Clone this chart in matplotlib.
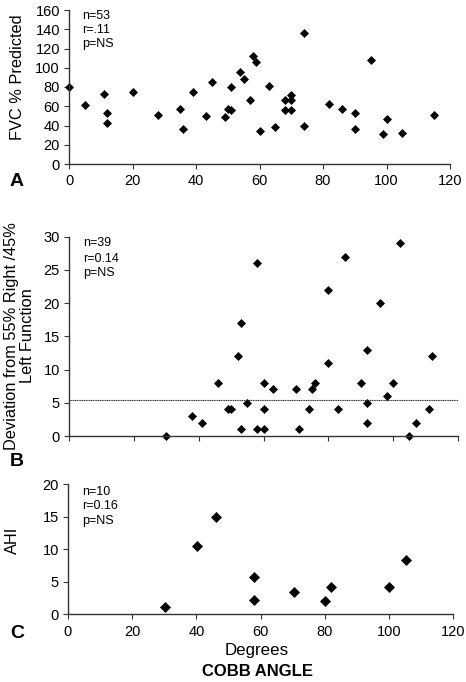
import numpy as np
import matplotlib
matplotlib.use("Agg")
import matplotlib.pyplot as plt

plt.rcParams['font.family'] = ['Liberation Sans', 'DejaVu Sans']

# ==========================
# DATA
# ==========================

# Panel A: FVC % predicted vs Cobb angle
fvc_angle = [0, 5, 11, 12, 12, 20, 28, 35, 36, 39, 43, 45, 49, 50, 51, 51,
             54, 55, 58, 59, 57, 60, 63, 65, 68, 68, 70, 70, 70, 74, 74,
             82, 86, 90, 90, 95, 100, 99, 105, 115]
fvc_pct = [80, 61, 73, 53, 43, 75, 51, 57, 36, 75, 50, 85, 49, 57, 56, 80,
           96, 88, 112, 106, 66, 34, 81, 38, 67, 56, 72, 66, 56, 136, 40,
           62, 57, 53, 36, 108, 47, 31, 32, 51]

# Panel B: deviation from 55/45 split vs Cobb angle
dev_angle = [30, 38, 41, 46, 49, 50, 52, 53, 53, 55, 58, 58, 60, 60, 60,
             63, 70, 71, 74, 75, 76, 80, 80, 83, 85, 90, 92, 92, 92, 96,
             98, 100, 102, 105, 107, 111, 112]
dev_val = [0, 3, 2, 8, 4, 4, 12, 17, 1, 5, 26, 1, 8, 4, 1,
           7, 7, 1, 4, 7, 8, 22, 11, 4, 27, 8, 13, 5, 2, 20,
           6, 8, 29, 0, 2, 4, 12]
dev_ref = 5.4

# Panel C: AHI vs Cobb angle
ahi_angle = [30.3, 40.2, 46, 58, 58, 70.3, 80, 82, 100, 105.4]
ahi_val = [1.2, 10.5, 15, 5.8, 2.2, 3.4, 2.0, 4.2, 4.2, 8.3]

stats_a = ["n=53", "r=.11", "p=NS"]
stats_b = ["n=39", "r=0.14", "p=NS"]
stats_c = ["n=10", "r=0.16", "p=NS"]

# ==========================
# FIGURE
# ==========================

W, H = 466, 682
fig = plt.figure(figsize=(W / 100, H / 100), dpi=100)


def px_axes(left, right, top, bottom):
    return fig.add_axes([left / W, 1 - bottom / H, (right - left) / W, (bottom - top) / H])


def px_text(x, y, s, **kw):
    return fig.text(x / W, 1 - y / H, s, **kw)


axA = px_axes(69, 450, 10, 164)
axB = px_axes(69, 458, 236.7, 436)
axC = px_axes(68, 453, 484.3, 614.3)

spine_col = '#333333'
for ax in (axA, axB, axC):
    for s in ('top', 'right'):
        ax.spines[s].set_visible(False)
    for s in ('left', 'bottom'):
        ax.spines[s].set_color(spine_col)
        ax.spines[s].set_linewidth(1.0)
    ax.tick_params(direction='out', length=3.5, width=0.8, color=spine_col,
                   labelsize=10.5)
    ax.tick_params(axis='x', pad=4)
    ax.tick_params(axis='y', pad=3)
    ax.set_xlim(0, 120)
    ax.set_xticks(np.arange(0, 121, 20))

# Panel A
axA.plot(fvc_angle, fvc_pct, 'D', color='black', ms=4, mew=0.5, clip_on=False)
axA.set_ylim(0, 160)
axA.set_yticks(np.arange(0, 161, 20))

# Panel B
axB.plot(dev_angle, dev_val, 'D', color='black', ms=4, mew=0.5, clip_on=False)
axB.axhline(dev_ref, color='#222222', lw=0.8, ls=(0, (1, 0.6)))
axB.set_ylim(0, 30)
axB.set_yticks(np.arange(0, 31, 5))
axB.tick_params(axis='x', labelbottom=False)

# Panel C
axC.plot(ahi_angle, ahi_val, 'D', color='black', ms=4.6, mew=0.5, clip_on=False)
axC.set_ylim(0, 20)
axC.set_yticks(np.arange(0, 21, 5))

# y labels
px_text(17.5, 77, "FVC % Predicted", fontsize=11.8, rotation=90,
        ha='center', va='center')
px_text(19.5, 336, "Deviation from 55% Right /45%\nLeft Function", fontsize=11.8,
        rotation=90, ha='center', va='center', linespacing=1.05,
        multialignment='center')
px_text(12.5, 540, "AHI", fontsize=11.8, rotation=90, ha='center', va='center')

# stats annotations
for lines, x0, ys in ((stats_a, 82.5, (15.7, 30, 44.3)),
                      (stats_b, 83, (243.3, 258.7, 272.7)),
                      (stats_c, 82, (491.7, 506, 520.7))):
    for s, y in zip(lines, ys):
        px_text(x0, y, s, fontsize=9, ha='left', va='center')

# Panel letters and common x label
for letter, y in (("A", 181), ("B", 461), ("C", 634)):
    px_text(17, y, letter, fontsize=14, fontweight='bold', ha='center', va='center')

px_text(257, 651, "Degrees", fontsize=12.2, ha='center', va='center')
px_text(257, 672, "COBB ANGLE", fontsize=12, fontweight='bold',
        ha='center', va='center')

fig.savefig("out.png", dpi=100)
